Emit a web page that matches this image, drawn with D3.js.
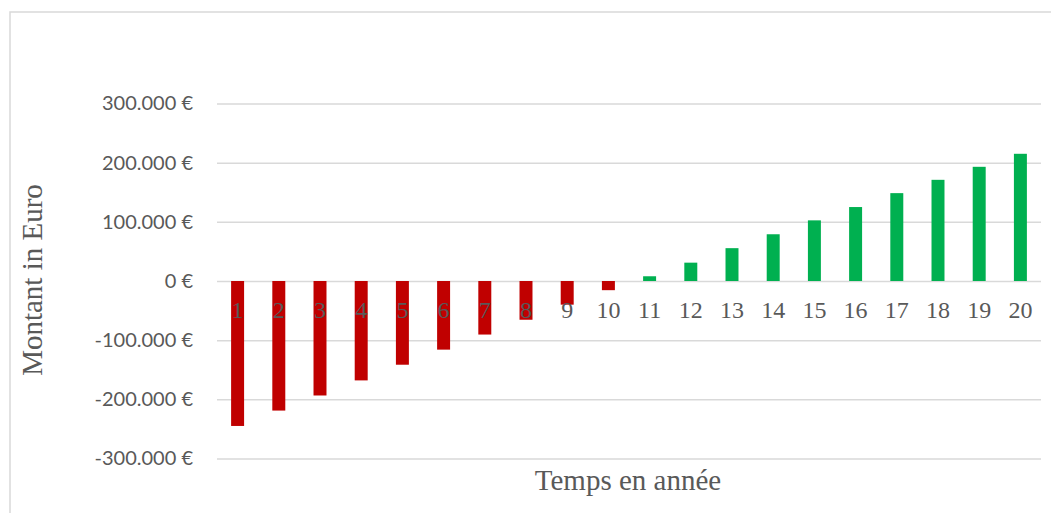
<!DOCTYPE html>
<html lang="fr">
<head>
<meta charset="UTF-8">
<title>Montant in Euro</title>
<style>
    body{ margin:0; background:#fff; }
    .grid line{ stroke:#d9d9d9; stroke-width:1.5; }
    .grid text{ font-family: Lato, "Open Sans", sans-serif; font-size:20px; fill:#595959; }
    .xaxis text{ font-family: "Liberation Serif", "DejaVu Serif", serif; font-size:24px; fill:#595959; }
    .title{ font-family: "Liberation Serif", serif; font-size:29px; fill:#595959; text-anchor:middle; }
</style>
<script src="https://cdn.jsdelivr.net/npm/d3@7/dist/d3.min.js"></script>
</head>
<body>
<script>
    // data
    var years = d3.range(1, 21);
    var amounts = [-245000,-219000,-193500,-168000,-141500,-116000,-90500,-65500,-40000,-15500,
                   8000,31000,55500,79000,102500,125000,148500,171000,193000,215000];
    var yTicks = [-300000,-200000,-100000,0,100000,200000,300000];

    var width = 1051, height = 513;
    var plot = {left:217, right:1041, top:103.5, bottom:458.5};

    var svg = d3.select("body").append("svg")
            .attr("width",width)
            .attr("height",height);

    // cadre
    svg.append("rect")
            .attr("x",10).attr("y",12)
            .attr("width",1100).attr("height",600)
            .attr("fill","none")
            .attr("stroke","#d9d9d9")
            .attr("stroke-width",1.5);

    var x = d3.scaleBand()
            .domain(years)
            .range([plot.left, plot.right])
            .paddingInner(0.685)
            .paddingOuter(0.3425);

    var y = d3.scaleLinear()
            .domain([-300000,300000])
            .range([plot.bottom, plot.top]);

    var euro = d3.formatLocale({decimal:",", thousands:".", grouping:[3], currency:[""," €"], minus:"-"});

    // grille + étiquettes
    var grid = svg.append("g")
            .attr("class","grid")
            .attr("transform","translate(" + plot.left + ",0)")
            .call(d3.axisLeft(y)
                .tickValues(yTicks)
                .tickSize(-(plot.right - plot.left))
                .tickPadding(24)
                .tickFormat(euro.format("$,.0f")));
    grid.select(".domain").remove();

    // barres
    svg.selectAll(".bar")
            .data(amounts)
            .enter()
            .append("rect")
            .attr("class","bar")
            .attr("x",function(d,i){ return x(years[i]); })
            .attr("y",function(d){ return y(Math.max(0,d)); })
            .attr("width",x.bandwidth())
            .attr("height",function(d){ return Math.abs(y(d) - y(0)); })
            .attr("fill",function(d){ return d < 0 ? "#c00000" : "#00b050"; });

    // axe x (au-dessus des barres)
    var xAxis = svg.append("g")
            .attr("class","xaxis")
            .attr("transform","translate(0," + y(0) + ")")
            .call(d3.axisBottom(x).tickSize(0).tickPadding(20));
    xAxis.select(".domain").remove();

    // titres
    svg.append("text")
            .attr("class","title")
            .attr("transform","translate(42,280) rotate(-90)")
            .text("Montant in Euro");
    svg.append("text")
            .attr("class","title")
            .attr("x",628)
            .attr("y",490)
            .text("Temps en année");
</script>
</body>
</html>
